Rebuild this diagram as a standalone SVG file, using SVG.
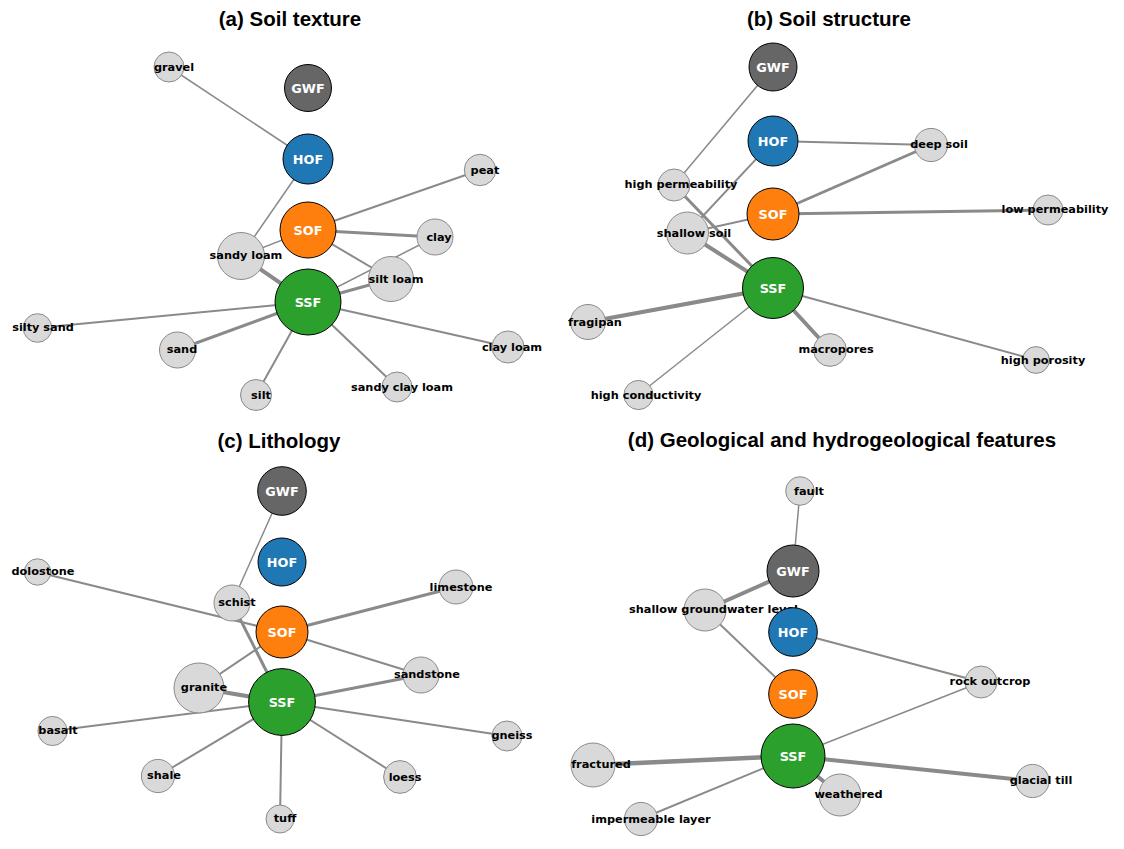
<svg xmlns="http://www.w3.org/2000/svg" width="1124" height="849" viewBox="0 0 1124 849">
<style>
.title{font-family:"Liberation Sans",Arial,sans-serif;font-weight:bold;font-size:20.5px;fill:#000;text-anchor:middle}
.e{stroke:#8a8a8a;fill:none;stroke-linecap:butt}
.w1{stroke-width:1.5}.w2{stroke-width:2}.w3{stroke-width:3}.w4{stroke-width:4}
.n{fill:#d9d9d9;stroke:#8a8a8a;stroke-width:1}
.hub{stroke:#000;stroke-width:1}
.gwf{fill:#666666}.hof{fill:#1f77b4}.sof{fill:#ff7f0e}.ssf{fill:#2ca02c}
.hl{font-family:"DejaVu Sans",sans-serif;font-weight:bold;font-size:12.8px;fill:#fff;text-anchor:middle;dominant-baseline:central}
.l{font-family:"DejaVu Sans",sans-serif;font-weight:bold;font-size:11.3px;fill:#000;text-anchor:middle;dominant-baseline:central}
</style>
<rect width="1124" height="849" fill="#fff"/>
<text class="title" x="290" y="26">(a) Soil texture</text>
<text class="title" x="829" y="26">(b) Soil structure</text>
<text class="title" x="279" y="448">(c) Lithology</text>
<text class="title" x="842" y="447">(d) Geological and hydrogeological features</text>

<g id="connectors">
<!-- (a) -->
<line class="e w1" x1="169" y1="67" x2="308" y2="159"/>
<line class="e w1" x1="308" y1="159" x2="241" y2="256"/>
<line class="e w2" x1="480" y1="170" x2="308" y2="230"/>
<line class="e w3" x1="308" y1="230" x2="435" y2="237"/>
<line class="e w1" x1="308" y1="230" x2="241" y2="256"/>
<line class="e w2" x1="308" y1="230" x2="391" y2="279"/>
<line class="e w1" x1="435" y1="237" x2="308" y2="302"/>
<line class="e w3" x1="391" y1="279" x2="308" y2="302"/>
<line class="e w4" x1="241" y1="256" x2="308" y2="302"/>
<line class="e w2" x1="37" y1="328" x2="308" y2="302"/>
<line class="e w3" x1="177" y1="350" x2="308" y2="302"/>
<line class="e w2" x1="256" y1="395" x2="308" y2="302"/>
<line class="e w2" x1="397" y1="387" x2="308" y2="302"/>
<line class="e w2" x1="508" y1="347" x2="308" y2="302"/>
<!-- (b) -->
<line class="e w1" x1="773" y1="67" x2="674" y2="185"/>
<line class="e w2" x1="773" y1="141" x2="931" y2="145"/>
<line class="e w2" x1="773" y1="141" x2="687" y2="233"/>
<line class="e w3" x1="773" y1="214" x2="931" y2="145"/>
<line class="e w3" x1="773" y1="214" x2="1048" y2="210"/>
<line class="e w2" x1="773" y1="214" x2="687" y2="233"/>
<line class="e w3" x1="674" y1="185" x2="773" y2="288"/>
<line class="e w4" x1="687" y1="233" x2="773" y2="288"/>
<line class="e w4" x1="588" y1="322" x2="773" y2="288"/>
<line class="e w4" x1="830" y1="350" x2="773" y2="288"/>
<line class="e w2" x1="1036" y1="360" x2="773" y2="288"/>
<line class="e w1" x1="638" y1="395" x2="773" y2="288"/>
<!-- (c) -->
<line class="e w1" x1="282" y1="491" x2="232" y2="603"/>
<line class="e w2" x1="37" y1="572" x2="282" y2="632"/>
<line class="e w3" x1="456" y1="587" x2="282" y2="632"/>
<line class="e w3" x1="232" y1="603" x2="282" y2="702"/>
<line class="e w2" x1="282" y1="632" x2="421" y2="675"/>
<line class="e w2" x1="282" y1="632" x2="199" y2="688"/>
<line class="e w4" x1="199" y1="688" x2="282" y2="702"/>
<line class="e w3" x1="421" y1="675" x2="282" y2="702"/>
<line class="e w2" x1="52" y1="731" x2="282" y2="702"/>
<line class="e w2" x1="507" y1="736" x2="282" y2="702"/>
<line class="e w2" x1="158" y1="776" x2="282" y2="702"/>
<line class="e w2" x1="400" y1="777" x2="282" y2="702"/>
<line class="e w2" x1="280" y1="819" x2="282" y2="702"/>
<!-- (d) -->
<line class="e w1" x1="800" y1="491" x2="793" y2="571"/>
<line class="e w4" x1="793" y1="571" x2="705" y2="610"/>
<line class="e w2" x1="705" y1="610" x2="793" y2="694"/>
<line class="e w2" x1="793" y1="632" x2="981" y2="682"/>
<line class="e w1" x1="981" y1="682" x2="793" y2="756"/>
<line class="e w4" x1="593" y1="765" x2="793" y2="756" style="stroke-width:4.5"/>
<line class="e w4" x1="1032" y1="781" x2="793" y2="756"/>
<line class="e w4" x1="840" y1="795" x2="793" y2="756"/>
<line class="e w2" x1="641" y1="819" x2="793" y2="756"/>
</g>

<!-- (a) nodes -->
<g id="a-gravel"><circle class="n" cx="169" cy="67" r="15"/><text class="l" x="174" y="67">gravel</text></g>
<g id="a-GWF"><circle class="hub gwf" cx="308" cy="88" r="23.5"/><text class="hl" x="308" y="88">GWF</text></g>
<g id="a-HOF"><circle class="hub hof" cx="308" cy="159" r="25"/><text class="hl" x="308" y="159">HOF</text></g>
<g id="a-peat"><circle class="n" cx="480" cy="170" r="15.7"/><text class="l" x="485" y="170">peat</text></g>
<g id="a-SOF"><circle class="hub sof" cx="308" cy="230" r="28"/><text class="hl" x="308" y="230">SOF</text></g>
<g id="a-clay"><circle class="n" cx="435" cy="237" r="18"/><text class="l" x="439" y="237">clay</text></g>
<g id="a-sandyloam"><circle class="n" cx="241" cy="256" r="23.5"/><text class="l" x="246" y="255">sandy loam</text></g>
<g id="a-siltloam"><circle class="n" cx="391" cy="279" r="22.5"/><text class="l" x="396" y="279">silt loam</text></g>
<g id="a-SSF"><circle class="hub ssf" cx="308" cy="302" r="33"/><text class="hl" x="308" y="302">SSF</text></g>
<g id="a-siltysand"><circle class="n" cx="37.5" cy="328" r="14.3"/><text class="l" x="43" y="327">silty sand</text></g>
<g id="a-sand"><circle class="n" cx="177.5" cy="350" r="18"/><text class="l" x="182" y="349">sand</text></g>
<g id="a-clayloam"><circle class="n" cx="508" cy="347" r="16"/><text class="l" x="512" y="347">clay loam</text></g>
<g id="a-silt"><circle class="n" cx="256" cy="395" r="15.5"/><text class="l" x="261" y="395">silt</text></g>
<g id="a-sandyclayloam"><circle class="n" cx="397" cy="387" r="15"/><text class="l" x="402" y="387">sandy clay loam</text></g>

<!-- (b) nodes -->
<g id="b-GWF"><circle class="hub gwf" cx="773" cy="67" r="24"/><text class="hl" x="773" y="67">GWF</text></g>
<g id="b-HOF"><circle class="hub hof" cx="773" cy="141" r="25"/><text class="hl" x="773" y="141">HOF</text></g>
<g id="b-deepsoil"><circle class="n" cx="931" cy="145" r="16.6"/><text class="l" x="939" y="144">deep soil</text></g>
<g id="b-highperm"><circle class="n" cx="674" cy="185" r="16"/><text class="l" x="681" y="184">high permeability</text></g>
<g id="b-SOF"><circle class="hub sof" cx="773" cy="214" r="26"/><text class="hl" x="773" y="214">SOF</text></g>
<g id="b-lowperm"><circle class="n" cx="1048" cy="210" r="15"/><text class="l" x="1055" y="209">low permeability</text></g>
<g id="b-shallowsoil"><circle class="n" cx="687.5" cy="233" r="21"/><text class="l" x="694" y="233">shallow soil</text></g>
<g id="b-SSF"><circle class="hub ssf" cx="773" cy="288" r="30.5"/><text class="hl" x="773" y="288">SSF</text></g>
<g id="b-fragipan"><circle class="n" cx="588" cy="322" r="17.5"/><text class="l" x="595" y="322">fragipan</text></g>
<g id="b-macropores"><circle class="n" cx="830" cy="350" r="16.4"/><text class="l" x="836" y="349">macropores</text></g>
<g id="b-highporosity"><circle class="n" cx="1036" cy="360" r="13.4"/><text class="l" x="1043" y="360">high porosity</text></g>
<g id="b-highcond"><circle class="n" cx="638.5" cy="395" r="14.6"/><text class="l" x="646" y="395">high conductivity</text></g>

<!-- (c) nodes -->
<g id="c-GWF"><circle class="hub gwf" cx="282" cy="491" r="24.3"/><text class="hl" x="282" y="491">GWF</text></g>
<g id="c-HOF"><circle class="hub hof" cx="282" cy="562" r="24"/><text class="hl" x="282" y="562">HOF</text></g>
<g id="c-dolostone"><circle class="n" cx="37.5" cy="572" r="13.2"/><text class="l" x="43" y="571">dolostone</text></g>
<g id="c-limestone"><circle class="n" cx="456" cy="587" r="17"/><text class="l" x="461" y="587">limestone</text></g>
<g id="c-schist"><circle class="n" cx="232" cy="603" r="18"/><text class="l" x="237" y="602">schist</text></g>
<g id="c-SOF"><circle class="hub sof" cx="282" cy="632" r="26"/><text class="hl" x="282" y="632">SOF</text></g>
<g id="c-sandstone"><circle class="n" cx="421" cy="675" r="18"/><text class="l" x="427" y="674">sandstone</text></g>
<g id="c-granite"><circle class="n" cx="199" cy="688" r="25"/><text class="l" x="204" y="687">granite</text></g>
<g id="c-SSF"><circle class="hub ssf" cx="282" cy="702" r="33.4"/><text class="hl" x="282" y="702">SSF</text></g>
<g id="c-basalt"><circle class="n" cx="52.5" cy="731" r="14.6"/><text class="l" x="58" y="730">basalt</text></g>
<g id="c-gneiss"><circle class="n" cx="507" cy="736" r="15"/><text class="l" x="512" y="735">gneiss</text></g>
<g id="c-shale"><circle class="n" cx="158" cy="776" r="16.6"/><text class="l" x="164" y="775">shale</text></g>
<g id="c-loess"><circle class="n" cx="400" cy="777" r="16.4"/><text class="l" x="405" y="777">loess</text></g>
<g id="c-tuff"><circle class="n" cx="280" cy="819" r="14"/><text class="l" x="285" y="818">tuff</text></g>

<!-- (d) nodes -->
<g id="d-fault"><circle class="n" cx="800" cy="491" r="14.3"/><text class="l" x="809" y="491">fault</text></g>
<g id="d-GWF"><circle class="hub gwf" cx="793" cy="571" r="26"/><text class="hl" x="793" y="571">GWF</text></g>
<g id="d-shallowgw"><circle class="n" cx="705" cy="610" r="21"/><text class="l" x="713.5" y="609">shallow groundwater level</text></g>
<g id="d-HOF"><circle class="hub hof" cx="793" cy="632" r="24.3"/><text class="hl" x="793" y="632">HOF</text></g>
<g id="d-rockoutcrop"><circle class="n" cx="981" cy="682" r="16"/><text class="l" x="990" y="681">rock outcrop</text></g>
<g id="d-SOF"><circle class="hub sof" cx="793" cy="694" r="24.3"/><text class="hl" x="793" y="694">SOF</text></g>
<g id="d-SSF"><circle class="hub ssf" cx="793" cy="756" r="32"/><text class="hl" x="793" y="756">SSF</text></g>
<g id="d-fractured"><circle class="n" cx="593" cy="765" r="22"/><text class="l" x="601" y="764">fractured</text></g>
<g id="d-glacialtill"><circle class="n" cx="1032.5" cy="781" r="16.6"/><text class="l" x="1041" y="780">glacial till</text></g>
<g id="d-weathered"><circle class="n" cx="840" cy="795" r="21"/><text class="l" x="848.5" y="794">weathered</text></g>
<g id="d-impermeable"><circle class="n" cx="641" cy="819" r="16.6"/><text class="l" x="651" y="819">impermeable layer</text></g>
</svg>
